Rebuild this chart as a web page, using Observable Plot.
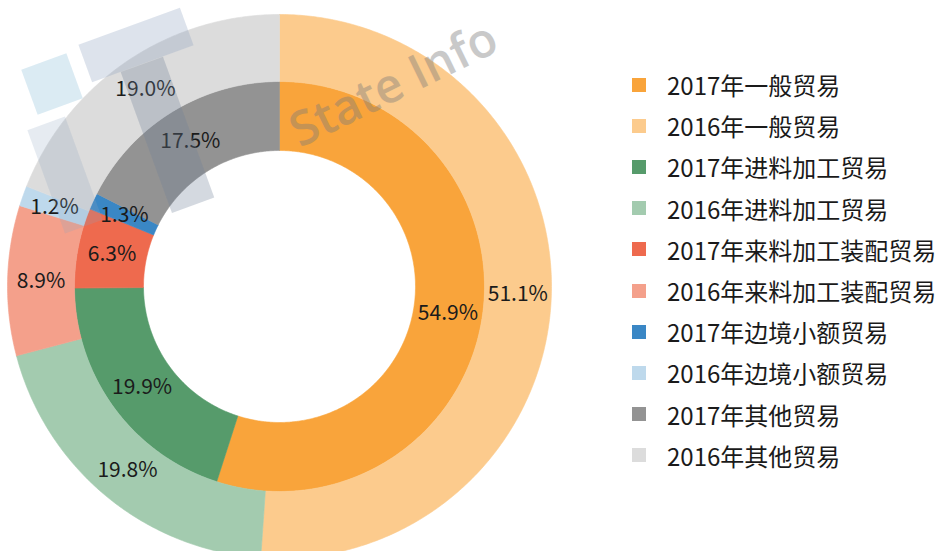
<!DOCTYPE html>
<html>
<head>
<meta charset="utf-8">
<script src="https://cdn.jsdelivr.net/npm/d3@7"></script>
<script src="https://cdn.jsdelivr.net/npm/@observablehq/plot@0.6"></script>
<style>
  html, body { margin: 0; padding: 0; background: #fff; }
  #wrap { position: relative; width: 941px; height: 551px; overflow: hidden; font-family: "Noto Sans CJK SC", "Noto Sans", sans-serif; }
  #chart { position: absolute; left: 0; top: 0; }
  #legend { position: absolute; left: 632px; top: 64px; }
  .row { display: flex; align-items: center; height: 41.2px; }
  .sw { width: 14px; height: 14px; margin-right: 21px; }
  .lab { font-size: 24px; color: #1a1a1a; white-space: nowrap; }
  #wm { position: absolute; left: 0; top: 0; pointer-events: none; }
</style>
</head>
<body>
<div id="wrap">
  <div id="chart"></div>
  <svg id="wm" width="941" height="551"></svg>
  <div id="legend"></div>
</div>
<script>
// ---- data ----
const categories = ["一般贸易", "进料加工贸易", "来料加工装配贸易", "边境小额贸易", "其他贸易"];
const share2017 = [54.9, 19.9, 6.3, 1.3, 17.5];
const share2016 = [51.1, 19.8, 8.9, 1.2, 19.0];
const colors2017 = ["#F9A43B", "#569B6B", "#EE6A4E", "#3A87C5", "#939393"];
const colors2016 = ["#FCCB8D", "#A3CBAF", "#F4A08B", "#BED9EC", "#DCDCDC"];

// ring geometry (pixels)
const rHole = 136, rMid = 205, rOuter = 272;
const cx = 279, cy = 286, W = 600, H = 551;

function ringSlices(values, year, r0, r1) {
  const total = d3.sum(values);
  let acc = 0;
  return values.map((v, i) => {
    const a0 = acc / total * 2 * Math.PI;
    acc += v;
    const a1 = acc / total * 2 * Math.PI;
    return {key: year + "年" + categories[i], value: v, a0, a1, r0, r1};
  });
}
const slices = [
  ...ringSlices(share2017, "2017", rHole, rMid),
  ...ringSlices(share2016, "2016", rMid, rOuter)
];

// polygon vertices for each slice
const verts = [];
for (const s of slices) {
  const n = Math.max(2, Math.ceil((s.a1 - s.a0) / (Math.PI / 360)));
  const pts = [];
  for (let k = 0; k <= n; k++) {
    const a = s.a0 + (s.a1 - s.a0) * k / n;
    pts.push([s.r1 * Math.sin(a), s.r1 * Math.cos(a)]);
  }
  for (let k = n; k >= 0; k--) {
    const a = s.a0 + (s.a1 - s.a0) * k / n;
    pts.push([s.r0 * Math.sin(a), s.r0 * Math.cos(a)]);
  }
  pts.push(pts[0]);
  for (const [x, y] of pts) verts.push({key: s.key, x, y});
}

const labels = slices.map(s => {
  const a = (s.a0 + s.a1) / 2, r = (s.r0 + s.r1) / 2;
  return {x: r * Math.sin(a), y: r * Math.cos(a), text: s.value.toFixed(1) + "%"};
});

const keys = [];
const keyColors = [];
categories.forEach((c, i) => {
  keys.push("2017年" + c); keyColors.push(colors2017[i]);
  keys.push("2016年" + c); keyColors.push(colors2016[i]);
});

const plot = Plot.plot({
  width: W, height: H,
  margin: 0,
  x: {domain: [-cx, W - cx], range: [0, W], axis: null},
  y: {domain: [-(H - cy), cy], range: [H, 0], axis: null},
  color: {domain: keys, range: keyColors},
  style: {fontFamily: '"Noto Sans CJK SC", "Noto Sans", sans-serif', background: "transparent"},
  marks: [
    Plot.line(verts, {x: "x", y: "y", z: "key", fill: "key", stroke: "key", strokeWidth: 0.6, curve: "linear"}),
    Plot.text(labels, {x: "x", y: "y", text: "text", fontSize: 21, fill: "#1b1b1b"})
  ]
});
document.getElementById("chart").appendChild(plot);

// legend
const leg = document.getElementById("legend");
keys.forEach((k, i) => {
  const row = document.createElement("div");
  row.className = "row";
  row.innerHTML = `<div class="sw" style="background:${keyColors[i]}"></div><div class="lab">${k}</div>`;
  leg.appendChild(row);
});

// watermark (decorative)
const wm = d3.select("#wm");
const g = wm.append("g");
g.append("rect").attr("x", 28).attr("y", 60).attr("width", 48).attr("height", 48)
  .attr("transform", "rotate(-20 52 84)").attr("fill", "#cfe4ef").attr("opacity", 0.75);
g.append("rect").attr("x", 82).attr("y", 25).attr("width", 108).attr("height", 40)
  .attr("transform", "rotate(-20 136 45)").attr("fill", "#8fa3bf").attr("opacity", 0.3);
g.append("rect").attr("x", 145).attr("y", 60).attr("width", 45).attr("height", 150)
  .attr("transform", "rotate(-20 167 135)").attr("fill", "#6f8299").attr("opacity", 0.3);
g.append("rect").attr("x", 45).attr("y", 120).attr("width", 40).attr("height", 110)
  .attr("transform", "rotate(-20 65 175)").attr("fill", "#8fa3bf").attr("opacity", 0.22);
g.append("text").attr("x", 300).attr("y", 148)
  .attr("transform", "rotate(-26 300 148)")
  .attr("font-family", '"Open Sans", sans-serif').attr("font-weight", 600)
  .attr("font-size", 48).attr("fill", "#7a7a7a").attr("opacity", 0.4)
  .text("State Info");
</script>
</body>
</html>
